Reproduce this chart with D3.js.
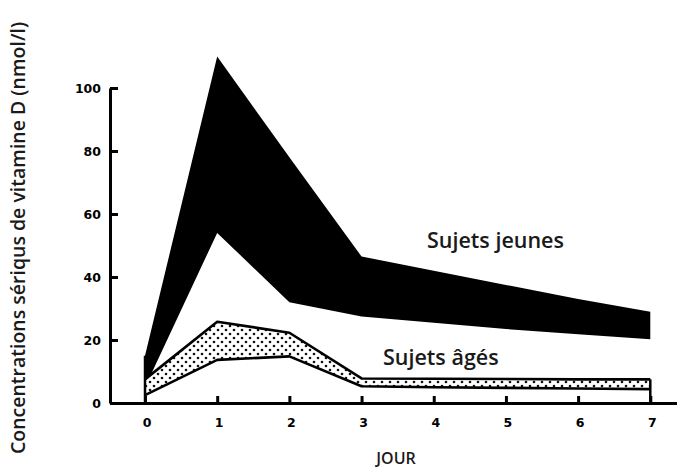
<!DOCTYPE html>
<html><head><meta charset="utf-8">
<script src="https://cdn.jsdelivr.net/npm/d3@7"></script>
<style>body{margin:0;background:#fff}svg{display:block}</style>
</head><body>
<script>
const days = [0, 1, 2, 3, 4, 5, 6, 7];
const youngUpper = [15, 110, 78, 46.5, 42, 37.5, 33, 29];
const youngLower = [5, 54, 32, 27.5, 25.5, 23.5, 21.8, 20.2];
const oldUpper = [7.5, 25.8, 22.3, 7.8, 7.7, 7.6, 7.5, 7.5];
const oldLower = [2.5, 13.7, 14.8, 5.3, 5, 4.8, 4.6, 4.4];
const yTicks = [0, 20, 40, 60, 80, 100];
const xTickLabels = ["0", "1", "2", "3", "4", "5", "6", "7"];
const yTitle = "Concentrations sériqus de vitamine D (nmol/l)";
const xTitle = "JOUR";
const labelYoung = "Sujets jeunes";
const labelOld = "Sujets âgés";

const W = 677, H = 468;
const svg = d3.select("body").append("svg").attr("width", W).attr("height", H);

const x = d3.scaleLinear().domain([-0.485, 7.37]).range([110, 677]);
const y = d3.scaleLinear().domain([0, 100]).range([403, 88]);

// pattern
const defs = svg.append("defs");
const pat = defs.append("pattern").attr("id", "dots").attr("patternUnits", "userSpaceOnUse")
  .attr("width", 8).attr("height", 8);
pat.append("rect").attr("width", 8).attr("height", 8).attr("fill", "#fff");
pat.append("circle").attr("cx", 2).attr("cy", 2).attr("r", 1.3).attr("fill", "#111");
pat.append("circle").attr("cx", 6).attr("cy", 6).attr("r", 1.3).attr("fill", "#111");

const young = days.map((d, i) => ({d, lo: youngLower[i], hi: youngUpper[i]}));
const old = days.map((d, i) => ({d, lo: oldLower[i], hi: oldUpper[i]}));

const area = d3.area().x(p => x(p.d)).y0(p => y(p.lo)).y1(p => y(p.hi));
const lineHi = d3.line().x(p => x(p.d)).y(p => y(p.hi));
const lineLo = d3.line().x(p => x(p.d)).y(p => y(p.lo));

// axes with d3
const yAxis = d3.axisLeft(y).tickValues(yTicks).tickSizeInner(-8).tickSizeOuter(0).tickPadding(9);
const gy = svg.append("g").attr("class", "axis y-axis")
  .attr("transform", `translate(${x.range()[0]},0)`).call(yAxis);
const xAxis = d3.axisBottom(x).tickValues(days).tickSizeInner(-7).tickSizeOuter(0).tickPadding(15)
  .tickFormat((d, i) => xTickLabels[i]);
const gx = svg.append("g").attr("class", "axis x-axis")
  .attr("transform", `translate(0,${y.range()[0]})`).call(xAxis);

[gy, gx].forEach(g => {
  g.select(".domain").attr("stroke", "#000").attr("stroke-width", 3);
  g.selectAll(".tick line").attr("stroke", "#000").attr("stroke-width", 3);
  g.selectAll(".tick text").attr("fill", "#000")
    .attr("font-family", "DejaVu Sans, sans-serif").attr("font-weight", "bold").attr("font-size", 12.5);
});
gx.selectAll(".tick text").attr("dx", 1.5);

// young band
svg.append("path").datum(young).attr("d", area).attr("fill", "#000");

// old band
svg.append("path").datum(old).attr("d", area).attr("fill", "url(#dots)");
svg.append("path").datum(old).attr("d", lineHi).attr("fill", "none").attr("stroke", "#000").attr("stroke-width", 2.6).attr("stroke-linejoin", "round");
svg.append("path").datum(old).attr("d", lineLo).attr("fill", "none").attr("stroke", "#000").attr("stroke-width", 2.6).attr("stroke-linejoin", "round");

// vertical edges at day 0 and day 7
svg.append("line").attr("x1", x(0)).attr("x2", x(0)).attr("y1", y(0)).attr("y2", y(youngUpper[0]))
  .attr("stroke", "#000").attr("stroke-width", 2.5);
svg.append("line").attr("x1", x(7)).attr("x2", x(7)).attr("y1", y(0)).attr("y2", y(oldUpper[7]))
  .attr("stroke", "#000").attr("stroke-width", 2.5);

// titles
svg.append("text").attr("transform", "translate(25,238) rotate(-90)").attr("text-anchor", "middle")
  .attr("font-family", "Open Sans, sans-serif").attr("font-weight", "600").attr("font-size", 19.5)
  .attr("fill", "#1a1a1a").text(yTitle);
svg.append("text").attr("x", 396).attr("y", 464).attr("text-anchor", "middle")
  .attr("font-family", "Open Sans, sans-serif").attr("font-weight", "600").attr("font-size", 16)
  .attr("fill", "#1a1a1a").text(xTitle);

// labels
svg.append("text").attr("x", 427).attr("y", 248)
  .attr("font-family", "Open Sans, sans-serif").attr("font-weight", "600").attr("font-size", 21.5)
  .attr("fill", "#1a1a1a").text(labelYoung);
svg.append("text").attr("x", 383).attr("y", 365)
  .attr("font-family", "Open Sans, sans-serif").attr("font-weight", "600").attr("font-size", 21.5)
  .attr("fill", "#1a1a1a").text(labelOld);
</script>
</body></html>
